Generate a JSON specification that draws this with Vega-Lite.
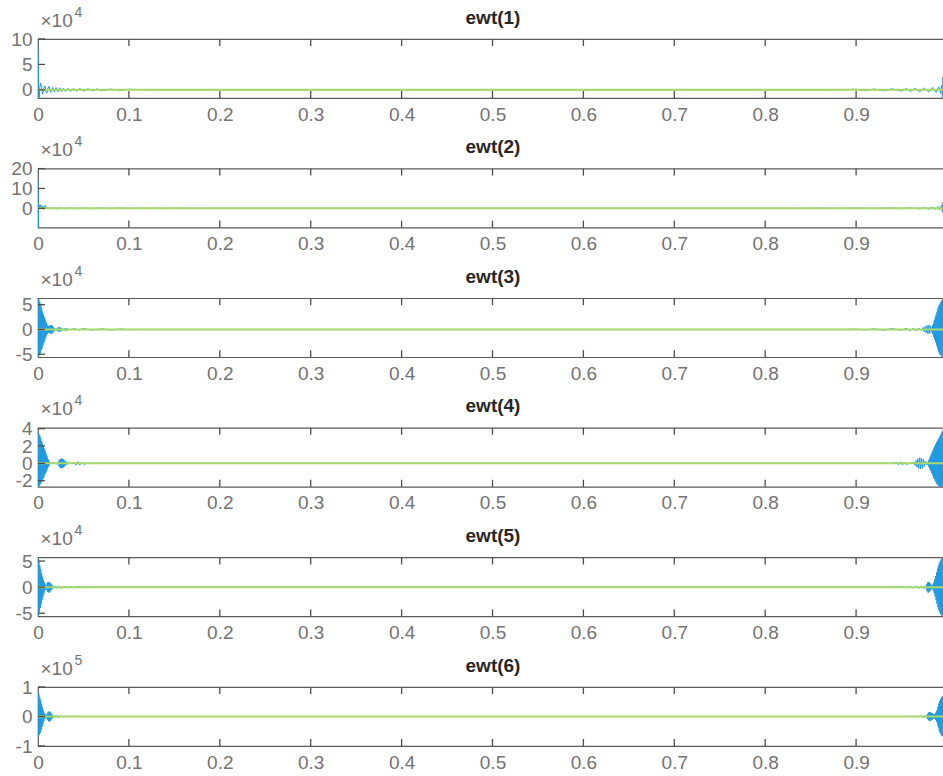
{
"$schema": "https://vega.github.io/schema/vega-lite/v6.json",
"autosize": {"type": "none"},
"padding": {"left": 38, "top": 39, "right": 905, "bottom": 737},
"background": "white",
"bounds": "flush",
"spacing": 70.6,
"config": {
  "font": "Liberation Sans",
  "view": {"stroke": "#595959", "strokeWidth": 1.2},
  "axis": {"grid": false, "domain": false, "ticks": false, "zindex": 1,
    "labelColor": "#737373", "labelFont": "Liberation Sans", "labelFontSize": 19, "labelOverlap": false, "labelBound": false, "labelFlush": false,
    "titleFont": "Liberation Sans", "titleColor": "#737373", "titleFontWeight": "normal"},
  "line": {"clip": true},
  "rule": {"color": "#4d4d4d", "strokeWidth": 1.3}
},
"datasets": {
"z": [{"x":0,"y":0},{"x":1,"y":0}],
"tx": [{"x":0.1},{"x":0.2},{"x":0.3},{"x":0.4},{"x":0.5},{"x":0.6},{"x":0.7},{"x":0.8},{"x":0.9}],
"ty1": [{"y":0},{"y":50000},{"y":100000}],
"ty2": [{"y":0},{"y":100000},{"y":200000}],
"ty3": [{"y":-50000},{"y":0},{"y":50000}],
"ty4": [{"y":-20000},{"y":0},{"y":20000},{"y":40000}],
"ty6": [{"y":-100000},{"y":0},{"y":100000}],
"e1": [{"x":0,"y":80000},{"x":0.0005,"y":20000},{"x":0.001,"y":-15000},{"x":0.0015,"y":-14000},{"x":0.002,"y":5000},{"x":0.003,"y":13000},{"x":0.004,"y":5000},{"x":0.005,"y":-8000},{"x":0.006,"y":-3000},{"x":0.007,"y":8000},{"x":0.008,"y":6000},{"x":0.009,"y":-5000},{"x":0.01,"y":-6000},{"x":0.011,"y":3000},{"x":0.012,"y":7000},{"x":0.013,"y":1000},{"x":0.014,"y":-5000},{"x":0.016,"y":4500},{"x":0.018,"y":-4500},{"x":0.02,"y":4500},{"x":0.022,"y":-4000},{"x":0.024,"y":4000},{"x":0.026,"y":-3500},{"x":0.028,"y":3500},{"x":0.03,"y":-3000},{"x":0.033,"y":3000},{"x":0.036,"y":-3000},{"x":0.039,"y":2800},{"x":0.042,"y":-2600},{"x":0.046,"y":2500},{"x":0.05,"y":-2400},{"x":0.055,"y":2200},{"x":0.06,"y":-2000},{"x":0.065,"y":2000},{"x":0.07,"y":-1800},{"x":0.08,"y":1600},{"x":0.09,"y":-1500},{"x":0.1,"y":1200},{"x":0.12,"y":0},{"x":0.88,"y":0},{"x":0.9,"y":1200},{"x":0.91,"y":-1500},{"x":0.92,"y":1600},{"x":0.93,"y":-1800},{"x":0.94,"y":2000},{"x":0.95,"y":-2400},{"x":0.955,"y":2500},{"x":0.96,"y":-2800},{"x":0.965,"y":3000},{"x":0.97,"y":-3500},{"x":0.975,"y":3500},{"x":0.98,"y":-4000},{"x":0.984,"y":4500},{"x":0.988,"y":-5000},{"x":0.991,"y":6000},{"x":0.993,"y":-7000},{"x":0.994,"y":9000},{"x":0.995,"y":-15000},{"x":0.9955,"y":25000},{"x":0.996,"y":0},{"x":1,"y":0}],
"e2": [{"x":0,"y":140000},{"x":0.0003,"y":-97000},{"x":0.0008,"y":20000},{"x":0.0015,"y":15000},{"x":0.002,"y":5000},{"x":0.003,"y":18000},{"x":0.004,"y":2000},{"x":0.005,"y":12000},{"x":0.006,"y":-5000},{"x":0.007,"y":8000},{"x":0.008,"y":15000},{"x":0.009,"y":-3000},{"x":0.01,"y":6000},{"x":0.012,"y":-4000},{"x":0.014,"y":5000},{"x":0.016,"y":-3000},{"x":0.018,"y":3000},{"x":0.02,"y":-3000},{"x":0.025,"y":3000},{"x":0.03,"y":-2500},{"x":0.035,"y":2500},{"x":0.04,"y":-2000},{"x":0.05,"y":2000},{"x":0.06,"y":-2000},{"x":0.07,"y":1800},{"x":0.08,"y":-1800},{"x":0.09,"y":1500},{"x":0.1,"y":-1500},{"x":0.11,"y":1500},{"x":0.12,"y":-1500},{"x":0.13,"y":1200},{"x":0.14,"y":-1200},{"x":0.15,"y":1000},{"x":0.17,"y":-800},{"x":0.19,"y":0},{"x":0.82,"y":0},{"x":0.84,"y":-800},{"x":0.86,"y":1000},{"x":0.88,"y":-1200},{"x":0.9,"y":1500},{"x":0.92,"y":-1500},{"x":0.94,"y":2000},{"x":0.95,"y":-2000},{"x":0.96,"y":2500},{"x":0.97,"y":-3000},{"x":0.975,"y":3000},{"x":0.98,"y":-4000},{"x":0.984,"y":6000},{"x":0.987,"y":-6000},{"x":0.99,"y":10000},{"x":0.992,"y":-8000},{"x":0.994,"y":15000},{"x":0.995,"y":-20000},{"x":0.9955,"y":30000},{"x":0.996,"y":0},{"x":1,"y":0}],
"e3": [{"x":0,"y":62000},{"x":0.0005,"y":-55000},{"x":0.001,"y":60000},{"x":0.0015,"y":-52000},{"x":0.002,"y":55000},{"x":0.0025,"y":-48000},{"x":0.003,"y":50000},{"x":0.0035,"y":-42000},{"x":0.004,"y":42000},{"x":0.0045,"y":-38000},{"x":0.005,"y":36000},{"x":0.0055,"y":-32000},{"x":0.006,"y":30000},{"x":0.0065,"y":-27000},{"x":0.007,"y":25000},{"x":0.0075,"y":-22000},{"x":0.008,"y":20000},{"x":0.0085,"y":-17000},{"x":0.009,"y":15000},{"x":0.0095,"y":-12000},{"x":0.01,"y":10000},{"x":0.0105,"y":-9000},{"x":0.011,"y":8000},{"x":0.0115,"y":-7000},{"x":0.012,"y":6000},{"x":0.0125,"y":-6000},{"x":0.013,"y":7000},{"x":0.0135,"y":-8000},{"x":0.014,"y":9000},{"x":0.0145,"y":-9000},{"x":0.015,"y":9000},{"x":0.0155,"y":-8000},{"x":0.016,"y":7000},{"x":0.0165,"y":-6000},{"x":0.017,"y":5000},{"x":0.0175,"y":-4000},{"x":0.018,"y":3000},{"x":0.019,"y":-2000},{"x":0.02,"y":2000},{"x":0.021,"y":-3000},{"x":0.022,"y":4500},{"x":0.023,"y":-5000},{"x":0.024,"y":5000},{"x":0.025,"y":-4000},{"x":0.026,"y":3000},{"x":0.027,"y":-2000},{"x":0.029,"y":2000},{"x":0.03,"y":-3000},{"x":0.031,"y":3000},{"x":0.032,"y":-2500},{"x":0.033,"y":1500},{"x":0.034,"y":-1000},{"x":0.04,"y":1500},{"x":0.045,"y":-1000},{"x":0.05,"y":1500},{"x":0.06,"y":-1200},{"x":0.07,"y":1000},{"x":0.08,"y":-1000},{"x":0.09,"y":800},{"x":0.1,"y":-500},{"x":0.11,"y":0},{"x":0.89,"y":0},{"x":0.9,"y":500},{"x":0.91,"y":-800},{"x":0.92,"y":1000},{"x":0.93,"y":-1200},{"x":0.94,"y":1500},{"x":0.95,"y":-1500},{"x":0.955,"y":2000},{"x":0.96,"y":-2500},{"x":0.963,"y":3000},{"x":0.966,"y":-3000},{"x":0.969,"y":3000},{"x":0.972,"y":-2500},{"x":0.974,"y":4000},{"x":0.975,"y":-5000},{"x":0.976,"y":6000},{"x":0.977,"y":-7000},{"x":0.978,"y":8000},{"x":0.979,"y":-9000},{"x":0.98,"y":9000},{"x":0.981,"y":-8000},{"x":0.982,"y":7000},{"x":0.983,"y":-6000},{"x":0.984,"y":8000},{"x":0.9845,"y":-10000},{"x":0.985,"y":12000},{"x":0.9855,"y":-15000},{"x":0.986,"y":18000},{"x":0.9865,"y":-20000},{"x":0.987,"y":24000},{"x":0.9875,"y":-26000},{"x":0.988,"y":30000},{"x":0.9885,"y":-32000},{"x":0.989,"y":36000},{"x":0.9895,"y":-38000},{"x":0.99,"y":42000},{"x":0.9905,"y":-44000},{"x":0.991,"y":48000},{"x":0.9915,"y":-48000},{"x":0.992,"y":50000},{"x":0.9925,"y":-52000},{"x":0.993,"y":55000},{"x":0.9935,"y":-52000},{"x":0.994,"y":58000},{"x":0.9945,"y":-55000},{"x":0.995,"y":60000},{"x":0.9955,"y":-55000},{"x":0.996,"y":62000},{"x":0.9965,"y":-55000},{"x":1,"y":0}],
"e4": [{"x":0,"y":36000},{"x":0.0005,"y":-27000},{"x":0.001,"y":34000},{"x":0.0015,"y":-26000},{"x":0.002,"y":32000},{"x":0.0025,"y":-24000},{"x":0.003,"y":29000},{"x":0.0035,"y":-22000},{"x":0.004,"y":26000},{"x":0.0045,"y":-20000},{"x":0.005,"y":23000},{"x":0.0055,"y":-18000},{"x":0.006,"y":20000},{"x":0.0065,"y":-16000},{"x":0.007,"y":17000},{"x":0.0075,"y":-13000},{"x":0.008,"y":14000},{"x":0.0085,"y":-11000},{"x":0.009,"y":11000},{"x":0.0095,"y":-9000},{"x":0.01,"y":8000},{"x":0.0105,"y":-6000},{"x":0.011,"y":5000},{"x":0.0115,"y":-4000},{"x":0.012,"y":3000},{"x":0.0125,"y":-2000},{"x":0.013,"y":1000},{"x":0.014,"y":0},{"x":0.018,"y":500},{"x":0.021,"y":-800},{"x":0.0225,"y":2000},{"x":0.023,"y":-3000},{"x":0.0235,"y":4000},{"x":0.024,"y":-4500},{"x":0.0245,"y":5000},{"x":0.025,"y":-5500},{"x":0.0255,"y":5500},{"x":0.026,"y":-5500},{"x":0.0265,"y":5500},{"x":0.027,"y":-5000},{"x":0.0275,"y":5000},{"x":0.028,"y":-4500},{"x":0.0285,"y":4000},{"x":0.029,"y":-3500},{"x":0.0295,"y":3000},{"x":0.03,"y":-2500},{"x":0.031,"y":2000},{"x":0.032,"y":-1500},{"x":0.033,"y":1000},{"x":0.034,"y":-500},{"x":0.04,"y":1000},{"x":0.042,"y":-2000},{"x":0.044,"y":2000},{"x":0.046,"y":-2000},{"x":0.048,"y":1500},{"x":0.05,"y":-1000},{"x":0.055,"y":0},{"x":0.94,"y":0},{"x":0.945,"y":1000},{"x":0.947,"y":-1500},{"x":0.949,"y":1800},{"x":0.951,"y":-1800},{"x":0.953,"y":1500},{"x":0.955,"y":-1000},{"x":0.96,"y":0},{"x":0.964,"y":1500},{"x":0.965,"y":-2500},{"x":0.966,"y":3500},{"x":0.967,"y":-4500},{"x":0.968,"y":5500},{"x":0.969,"y":-6000},{"x":0.97,"y":6500},{"x":0.971,"y":-6500},{"x":0.972,"y":6000},{"x":0.973,"y":-5500},{"x":0.974,"y":4500},{"x":0.975,"y":-3500},{"x":0.976,"y":2500},{"x":0.977,"y":-1500},{"x":0.978,"y":1500},{"x":0.979,"y":-2000},{"x":0.9795,"y":3000},{"x":0.98,"y":-4000},{"x":0.9805,"y":5000},{"x":0.981,"y":-6000},{"x":0.9815,"y":7500},{"x":0.982,"y":-8500},{"x":0.9825,"y":10000},{"x":0.983,"y":-11000},{"x":0.9835,"y":12500},{"x":0.984,"y":-13500},{"x":0.9845,"y":15000},{"x":0.985,"y":-16000},{"x":0.9855,"y":17500},{"x":0.986,"y":-18000},{"x":0.9865,"y":20000},{"x":0.987,"y":-20000},{"x":0.9875,"y":22000},{"x":0.988,"y":-22000},{"x":0.9885,"y":24000},{"x":0.989,"y":-24000},{"x":0.9895,"y":26000},{"x":0.99,"y":-25000},{"x":0.9905,"y":28000},{"x":0.991,"y":-26000},{"x":0.9915,"y":30000},{"x":0.992,"y":-27000},{"x":0.9925,"y":32000},{"x":0.993,"y":-27000},{"x":0.9935,"y":34000},{"x":0.994,"y":-27000},{"x":0.9945,"y":36000},{"x":0.995,"y":-27000},{"x":0.9955,"y":38000},{"x":0.996,"y":-27000},{"x":1,"y":0}],
"e5": [{"x":0,"y":56000},{"x":0.0005,"y":-55000},{"x":0.001,"y":50000},{"x":0.0015,"y":-48000},{"x":0.002,"y":42000},{"x":0.0025,"y":-40000},{"x":0.003,"y":34000},{"x":0.0035,"y":-32000},{"x":0.004,"y":27000},{"x":0.0045,"y":-25000},{"x":0.005,"y":20000},{"x":0.0055,"y":-18000},{"x":0.006,"y":14000},{"x":0.0065,"y":-12000},{"x":0.007,"y":9000},{"x":0.0075,"y":-7000},{"x":0.008,"y":5000},{"x":0.0085,"y":-4000},{"x":0.009,"y":3000},{"x":0.0095,"y":-5000},{"x":0.01,"y":7000},{"x":0.0105,"y":-9000},{"x":0.011,"y":10000},{"x":0.0115,"y":-10000},{"x":0.012,"y":10000},{"x":0.0125,"y":-10000},{"x":0.013,"y":9000},{"x":0.0135,"y":-8000},{"x":0.014,"y":7000},{"x":0.0145,"y":-6000},{"x":0.015,"y":5000},{"x":0.0155,"y":-4000},{"x":0.016,"y":3000},{"x":0.017,"y":-2000},{"x":0.019,"y":2500},{"x":0.021,"y":-2500},{"x":0.023,"y":2000},{"x":0.026,"y":-2000},{"x":0.029,"y":1500},{"x":0.032,"y":-1500},{"x":0.035,"y":1200},{"x":0.04,"y":-1000},{"x":0.045,"y":800},{"x":0.05,"y":0},{"x":0.94,"y":0},{"x":0.95,"y":800},{"x":0.955,"y":-1000},{"x":0.96,"y":1200},{"x":0.963,"y":-1500},{"x":0.966,"y":1500},{"x":0.969,"y":-2000},{"x":0.972,"y":2000},{"x":0.974,"y":-2500},{"x":0.976,"y":2500},{"x":0.977,"y":-3000},{"x":0.9775,"y":5000},{"x":0.978,"y":-7000},{"x":0.9785,"y":9000},{"x":0.979,"y":-10000},{"x":0.9795,"y":10000},{"x":0.98,"y":-10000},{"x":0.9805,"y":9000},{"x":0.981,"y":-8000},{"x":0.9815,"y":7000},{"x":0.982,"y":-6000},{"x":0.9825,"y":5000},{"x":0.983,"y":-4000},{"x":0.9835,"y":3000},{"x":0.984,"y":-3000},{"x":0.9845,"y":5000},{"x":0.985,"y":-7000},{"x":0.9855,"y":9000},{"x":0.986,"y":-12000},{"x":0.9865,"y":15000},{"x":0.987,"y":-18000},{"x":0.9875,"y":21000},{"x":0.988,"y":-25000},{"x":0.9885,"y":28000},{"x":0.989,"y":-32000},{"x":0.9895,"y":35000},{"x":0.99,"y":-38000},{"x":0.9905,"y":41000},{"x":0.991,"y":-44000},{"x":0.9915,"y":46000},{"x":0.992,"y":-48000},{"x":0.9925,"y":50000},{"x":0.993,"y":-52000},{"x":0.9935,"y":53000},{"x":0.994,"y":-54000},{"x":0.9945,"y":55000},{"x":0.995,"y":-55000},{"x":0.9955,"y":56000},{"x":0.996,"y":-56000},{"x":1,"y":0}],
"e6": [{"x":0,"y":83000},{"x":0.0005,"y":-67000},{"x":0.001,"y":75000},{"x":0.0015,"y":-62000},{"x":0.002,"y":65000},{"x":0.0025,"y":-55000},{"x":0.003,"y":55000},{"x":0.0035,"y":-45000},{"x":0.004,"y":42000},{"x":0.0045,"y":-35000},{"x":0.005,"y":30000},{"x":0.0055,"y":-25000},{"x":0.006,"y":20000},{"x":0.0065,"y":-15000},{"x":0.007,"y":12000},{"x":0.0075,"y":-9000},{"x":0.008,"y":7000},{"x":0.0085,"y":-5000},{"x":0.009,"y":4000},{"x":0.0095,"y":-6000},{"x":0.01,"y":9000},{"x":0.0105,"y":-12000},{"x":0.011,"y":14000},{"x":0.0115,"y":-16000},{"x":0.012,"y":17000},{"x":0.0125,"y":-17000},{"x":0.013,"y":16000},{"x":0.0135,"y":-15000},{"x":0.014,"y":13000},{"x":0.0145,"y":-11000},{"x":0.015,"y":9000},{"x":0.0155,"y":-7000},{"x":0.016,"y":5000},{"x":0.017,"y":-4000},{"x":0.018,"y":3000},{"x":0.019,"y":-2000},{"x":0.021,"y":3000},{"x":0.023,"y":-3000},{"x":0.025,"y":2000},{"x":0.027,"y":-1000},{"x":0.03,"y":0},{"x":0.97,"y":0},{"x":0.972,"y":2000},{"x":0.974,"y":-3000},{"x":0.976,"y":3000},{"x":0.977,"y":-4000},{"x":0.978,"y":5000},{"x":0.9785,"y":-8000},{"x":0.979,"y":10000},{"x":0.9795,"y":-12000},{"x":0.98,"y":14000},{"x":0.9805,"y":-15000},{"x":0.981,"y":15000},{"x":0.9815,"y":-15000},{"x":0.982,"y":14000},{"x":0.9825,"y":-13000},{"x":0.983,"y":12000},{"x":0.9835,"y":-11000},{"x":0.984,"y":10000},{"x":0.9845,"y":-9000},{"x":0.985,"y":8000},{"x":0.9855,"y":-7000},{"x":0.986,"y":7000},{"x":0.9865,"y":-8000},{"x":0.987,"y":10000},{"x":0.9875,"y":-12000},{"x":0.988,"y":15000},{"x":0.9885,"y":-18000},{"x":0.989,"y":22000},{"x":0.9895,"y":-27000},{"x":0.99,"y":33000},{"x":0.9905,"y":-38000},{"x":0.991,"y":44000},{"x":0.9915,"y":-48000},{"x":0.992,"y":53000},{"x":0.9925,"y":-56000},{"x":0.993,"y":60000},{"x":0.9935,"y":-62000},{"x":0.994,"y":65000},{"x":0.9945,"y":-66000},{"x":0.995,"y":68000},{"x":0.9955,"y":-68000},{"x":0.996,"y":70000},{"x":1,"y":0}]
},
"vconcat": [
{"width": 909, "height": 59, "resolve": {"axis": {"x": "independent", "y": "independent"}},
 "layer": [
  {"data": {"name": "e1"}, "mark": {"type": "line", "color": "#1f9ae0", "strokeWidth": 1, "clip": true},
   "encoding": {
    "x": {"field": "x", "type": "quantitative", "scale": {"domain": [0, 1], "nice": false}, "axis": {"orient": "bottom", "values": [0,0.1,0.2,0.3,0.4,0.5,0.6,0.7,0.8,0.9,1], "labelPadding": 7, "labelExpr": "datum.value == 0 ? '0' : datum.value == 1 ? '1' : format(datum.value, '.1f')", "title": null}},
    "y": {"field": "y", "type": "quantitative", "scale": {"domain": [-16000, 100000], "nice": false, "zero": false}, "axis": {"orient": "left", "values": [0, 50000, 100000], "labelPadding": 6, "labelExpr": "datum.value / 10000", "title": "×10", "titleAngle": 0, "titleAlign": "left", "titleBaseline": "alphabetic", "titleX": 2, "titleY": -13, "titleFontSize": 19}}
   }},
  {"data": {"name": "z"}, "mark": {"type": "line", "color": "#a6d96a", "strokeWidth": 2},
   "encoding": {
    "x": {"field": "x", "type": "quantitative", "scale": {"domain": [0, 1], "nice": false}, "axis": {"orient": "top", "values": [0,0.5,1], "labels": false, "title": "ewt(1)", "titleFontWeight": "bold", "titleColor": "#262626", "titleFontSize": 19, "titleBaseline": "alphabetic", "titlePadding": 16}},
    "y": {"field": "y", "type": "quantitative", "scale": {"domain": [-16000, 100000], "nice": false, "zero": false}, "axis": {"orient": "right", "values": [0], "labels": false, "title": "4", "titleAngle": 0, "titleAlign": "left", "titleBaseline": "alphabetic", "titleX": -873, "titleY": -23, "titleFontSize": 14}}
   }},
  {"data": {"name": "tx"}, "mark": {"type": "rule"},
   "encoding": {"x": {"field": "x", "type": "quantitative", "axis": null}, "y": {"datum": 100000, "axis": null}, "y2": {"datum": 86237}}},
  {"data": {"name": "tx"}, "mark": {"type": "rule"},
   "encoding": {"x": {"field": "x", "type": "quantitative", "axis": null}, "y": {"datum": -16000, "axis": null}, "y2": {"datum": -2237}}},
  {"data": {"name": "ty1"}, "mark": {"type": "rule"},
   "encoding": {"y": {"field": "y", "type": "quantitative", "axis": null}, "x": {"datum": 0, "axis": null}, "x2": {"datum": 0.0077}}}
 ]},
{"width": 909, "height": 59, "resolve": {"axis": {"x": "independent", "y": "independent"}},
 "layer": [
  {"data": {"name": "e2"}, "mark": {"type": "line", "color": "#1f9ae0", "strokeWidth": 1, "clip": true},
   "encoding": {
    "x": {"field": "x", "type": "quantitative", "scale": {"domain": [0, 1], "nice": false}, "axis": {"orient": "bottom", "values": [0,0.1,0.2,0.3,0.4,0.5,0.6,0.7,0.8,0.9,1], "labelPadding": 7, "labelExpr": "datum.value == 0 ? '0' : datum.value == 1 ? '1' : format(datum.value, '.1f')", "title": null}},
    "y": {"field": "y", "type": "quantitative", "scale": {"domain": [-97000, 200000], "nice": false, "zero": false}, "axis": {"orient": "left", "values": [0, 100000, 200000], "labelPadding": 6, "labelExpr": "datum.value / 10000", "title": "×10", "titleAngle": 0, "titleAlign": "left", "titleBaseline": "alphabetic", "titleX": 2, "titleY": -13, "titleFontSize": 19}}
   }},
  {"data": {"name": "z"}, "mark": {"type": "line", "color": "#a6d96a", "strokeWidth": 2},
   "encoding": {
    "x": {"field": "x", "type": "quantitative", "scale": {"domain": [0, 1], "nice": false}, "axis": {"orient": "top", "values": [0,0.5,1], "labels": false, "title": "ewt(2)", "titleFontWeight": "bold", "titleColor": "#262626", "titleFontSize": 19, "titleBaseline": "alphabetic", "titlePadding": 16}},
    "y": {"field": "y", "type": "quantitative", "scale": {"domain": [-97000, 200000], "nice": false, "zero": false}, "axis": {"orient": "right", "values": [0], "labels": false, "title": "4", "titleAngle": 0, "titleAlign": "left", "titleBaseline": "alphabetic", "titleX": -873, "titleY": -23, "titleFontSize": 14}}
   }},
  {"data": {"name": "tx"}, "mark": {"type": "rule"},
   "encoding": {"x": {"field": "x", "type": "quantitative", "axis": null}, "y": {"datum": 200000, "axis": null}, "y2": {"datum": 164763}}},
  {"data": {"name": "tx"}, "mark": {"type": "rule"},
   "encoding": {"x": {"field": "x", "type": "quantitative", "axis": null}, "y": {"datum": -97000, "axis": null}, "y2": {"datum": -61763}}},
  {"data": {"name": "ty2"}, "mark": {"type": "rule"},
   "encoding": {"y": {"field": "y", "type": "quantitative", "axis": null}, "x": {"datum": 0, "axis": null}, "x2": {"datum": 0.0077}}}
 ]},
{"width": 909, "height": 59, "resolve": {"axis": {"x": "independent", "y": "independent"}},
 "layer": [
  {"data": {"name": "e3"}, "mark": {"type": "line", "color": "#1f9ae0", "strokeWidth": 1, "clip": true},
   "encoding": {
    "x": {"field": "x", "type": "quantitative", "scale": {"domain": [0, 1], "nice": false}, "axis": {"orient": "bottom", "values": [0,0.1,0.2,0.3,0.4,0.5,0.6,0.7,0.8,0.9,1], "labelPadding": 7, "labelExpr": "datum.value == 0 ? '0' : datum.value == 1 ? '1' : format(datum.value, '.1f')", "title": null}},
    "y": {"field": "y", "type": "quantitative", "scale": {"domain": [-56000, 63000], "nice": false, "zero": false}, "axis": {"orient": "left", "values": [-50000, 0, 50000], "labelPadding": 6, "labelExpr": "datum.value / 10000", "title": "×10", "titleAngle": 0, "titleAlign": "left", "titleBaseline": "alphabetic", "titleX": 2, "titleY": -13, "titleFontSize": 19}}
   }},
  {"data": {"name": "z"}, "mark": {"type": "line", "color": "#a6d96a", "strokeWidth": 2},
   "encoding": {
    "x": {"field": "x", "type": "quantitative", "scale": {"domain": [0, 1], "nice": false}, "axis": {"orient": "top", "values": [0,0.5,1], "labels": false, "title": "ewt(3)", "titleFontWeight": "bold", "titleColor": "#262626", "titleFontSize": 19, "titleBaseline": "alphabetic", "titlePadding": 16}},
    "y": {"field": "y", "type": "quantitative", "scale": {"domain": [-56000, 63000], "nice": false, "zero": false}, "axis": {"orient": "right", "values": [0], "labels": false, "title": "4", "titleAngle": 0, "titleAlign": "left", "titleBaseline": "alphabetic", "titleX": -873, "titleY": -23, "titleFontSize": 14}}
   }},
  {"data": {"name": "tx"}, "mark": {"type": "rule"},
   "encoding": {"x": {"field": "x", "type": "quantitative", "axis": null}, "y": {"datum": 63000, "axis": null}, "y2": {"datum": 48881}}},
  {"data": {"name": "tx"}, "mark": {"type": "rule"},
   "encoding": {"x": {"field": "x", "type": "quantitative", "axis": null}, "y": {"datum": -56000, "axis": null}, "y2": {"datum": -41881}}},
  {"data": {"name": "ty3"}, "mark": {"type": "rule"},
   "encoding": {"y": {"field": "y", "type": "quantitative", "axis": null}, "x": {"datum": 0, "axis": null}, "x2": {"datum": 0.0077}}}
 ]},
{"width": 909, "height": 59, "resolve": {"axis": {"x": "independent", "y": "independent"}},
 "layer": [
  {"data": {"name": "e4"}, "mark": {"type": "line", "color": "#1f9ae0", "strokeWidth": 1, "clip": true},
   "encoding": {
    "x": {"field": "x", "type": "quantitative", "scale": {"domain": [0, 1], "nice": false}, "axis": {"orient": "bottom", "values": [0,0.1,0.2,0.3,0.4,0.5,0.6,0.7,0.8,0.9,1], "labelPadding": 7, "labelExpr": "datum.value == 0 ? '0' : datum.value == 1 ? '1' : format(datum.value, '.1f')", "title": null}},
    "y": {"field": "y", "type": "quantitative", "scale": {"domain": [-27000, 41000], "nice": false, "zero": false}, "axis": {"orient": "left", "values": [-20000, 0, 20000, 40000], "labelPadding": 6, "labelExpr": "datum.value / 10000", "title": "×10", "titleAngle": 0, "titleAlign": "left", "titleBaseline": "alphabetic", "titleX": 2, "titleY": -13, "titleFontSize": 19}}
   }},
  {"data": {"name": "z"}, "mark": {"type": "line", "color": "#a6d96a", "strokeWidth": 2},
   "encoding": {
    "x": {"field": "x", "type": "quantitative", "scale": {"domain": [0, 1], "nice": false}, "axis": {"orient": "top", "values": [0,0.5,1], "labels": false, "title": "ewt(4)", "titleFontWeight": "bold", "titleColor": "#262626", "titleFontSize": 19, "titleBaseline": "alphabetic", "titlePadding": 16}},
    "y": {"field": "y", "type": "quantitative", "scale": {"domain": [-27000, 41000], "nice": false, "zero": false}, "axis": {"orient": "right", "values": [0], "labels": false, "title": "4", "titleAngle": 0, "titleAlign": "left", "titleBaseline": "alphabetic", "titleX": -873, "titleY": -23, "titleFontSize": 14}}
   }},
  {"data": {"name": "tx"}, "mark": {"type": "rule"},
   "encoding": {"x": {"field": "x", "type": "quantitative", "axis": null}, "y": {"datum": 41000, "axis": null}, "y2": {"datum": 32932}}},
  {"data": {"name": "tx"}, "mark": {"type": "rule"},
   "encoding": {"x": {"field": "x", "type": "quantitative", "axis": null}, "y": {"datum": -27000, "axis": null}, "y2": {"datum": -18932}}},
  {"data": {"name": "ty4"}, "mark": {"type": "rule"},
   "encoding": {"y": {"field": "y", "type": "quantitative", "axis": null}, "x": {"datum": 0, "axis": null}, "x2": {"datum": 0.0077}}}
 ]},
{"width": 909, "height": 59, "resolve": {"axis": {"x": "independent", "y": "independent"}},
 "layer": [
  {"data": {"name": "e5"}, "mark": {"type": "line", "color": "#1f9ae0", "strokeWidth": 1, "clip": true},
   "encoding": {
    "x": {"field": "x", "type": "quantitative", "scale": {"domain": [0, 1], "nice": false}, "axis": {"orient": "bottom", "values": [0,0.1,0.2,0.3,0.4,0.5,0.6,0.7,0.8,0.9,1], "labelPadding": 7, "labelExpr": "datum.value == 0 ? '0' : datum.value == 1 ? '1' : format(datum.value, '.1f')", "title": null}},
    "y": {"field": "y", "type": "quantitative", "scale": {"domain": [-56000, 57000], "nice": false, "zero": false}, "axis": {"orient": "left", "values": [-50000, 0, 50000], "labelPadding": 6, "labelExpr": "datum.value / 10000", "title": "×10", "titleAngle": 0, "titleAlign": "left", "titleBaseline": "alphabetic", "titleX": 2, "titleY": -13, "titleFontSize": 19}}
   }},
  {"data": {"name": "z"}, "mark": {"type": "line", "color": "#a6d96a", "strokeWidth": 2},
   "encoding": {
    "x": {"field": "x", "type": "quantitative", "scale": {"domain": [0, 1], "nice": false}, "axis": {"orient": "top", "values": [0,0.5,1], "labels": false, "title": "ewt(5)", "titleFontWeight": "bold", "titleColor": "#262626", "titleFontSize": 19, "titleBaseline": "alphabetic", "titlePadding": 16}},
    "y": {"field": "y", "type": "quantitative", "scale": {"domain": [-56000, 57000], "nice": false, "zero": false}, "axis": {"orient": "right", "values": [0], "labels": false, "title": "4", "titleAngle": 0, "titleAlign": "left", "titleBaseline": "alphabetic", "titleX": -873, "titleY": -23, "titleFontSize": 14}}
   }},
  {"data": {"name": "tx"}, "mark": {"type": "rule"},
   "encoding": {"x": {"field": "x", "type": "quantitative", "axis": null}, "y": {"datum": 57000, "axis": null}, "y2": {"datum": 43593}}},
  {"data": {"name": "tx"}, "mark": {"type": "rule"},
   "encoding": {"x": {"field": "x", "type": "quantitative", "axis": null}, "y": {"datum": -56000, "axis": null}, "y2": {"datum": -42593}}},
  {"data": {"name": "ty3"}, "mark": {"type": "rule"},
   "encoding": {"y": {"field": "y", "type": "quantitative", "axis": null}, "x": {"datum": 0, "axis": null}, "x2": {"datum": 0.0077}}}
 ]},
{"width": 909, "height": 59, "resolve": {"axis": {"x": "independent", "y": "independent"}},
 "layer": [
  {"data": {"name": "e6"}, "mark": {"type": "line", "color": "#1f9ae0", "strokeWidth": 1, "clip": true},
   "encoding": {
    "x": {"field": "x", "type": "quantitative", "scale": {"domain": [0, 1], "nice": false}, "axis": {"orient": "bottom", "values": [0,0.1,0.2,0.3,0.4,0.5,0.6,0.7,0.8,0.9,1], "labelPadding": 7, "labelExpr": "datum.value == 0 ? '0' : datum.value == 1 ? '1' : format(datum.value, '.1f')", "title": null}},
    "y": {"field": "y", "type": "quantitative", "scale": {"domain": [-100000, 100000], "nice": false, "zero": false}, "axis": {"orient": "left", "values": [-100000, 0, 100000], "labelPadding": 6, "labelExpr": "datum.value / 100000", "title": "×10", "titleAngle": 0, "titleAlign": "left", "titleBaseline": "alphabetic", "titleX": 2, "titleY": -13, "titleFontSize": 19}}
   }},
  {"data": {"name": "z"}, "mark": {"type": "line", "color": "#a6d96a", "strokeWidth": 2},
   "encoding": {
    "x": {"field": "x", "type": "quantitative", "scale": {"domain": [0, 1], "nice": false}, "axis": {"orient": "top", "values": [0,0.5,1], "labels": false, "title": "ewt(6)", "titleFontWeight": "bold", "titleColor": "#262626", "titleFontSize": 19, "titleBaseline": "alphabetic", "titlePadding": 16}},
    "y": {"field": "y", "type": "quantitative", "scale": {"domain": [-100000, 100000], "nice": false, "zero": false}, "axis": {"orient": "right", "values": [0], "labels": false, "title": "5", "titleAngle": 0, "titleAlign": "left", "titleBaseline": "alphabetic", "titleX": -873, "titleY": -23, "titleFontSize": 14}}
   }},
  {"data": {"name": "tx"}, "mark": {"type": "rule"},
   "encoding": {"x": {"field": "x", "type": "quantitative", "axis": null}, "y": {"datum": 100000, "axis": null}, "y2": {"datum": 76271}}},
  {"data": {"name": "tx"}, "mark": {"type": "rule"},
   "encoding": {"x": {"field": "x", "type": "quantitative", "axis": null}, "y": {"datum": -100000, "axis": null}, "y2": {"datum": -76271}}},
  {"data": {"name": "ty6"}, "mark": {"type": "rule"},
   "encoding": {"y": {"field": "y", "type": "quantitative", "axis": null}, "x": {"datum": 0, "axis": null}, "x2": {"datum": 0.0077}}}
 ]}
]
}
